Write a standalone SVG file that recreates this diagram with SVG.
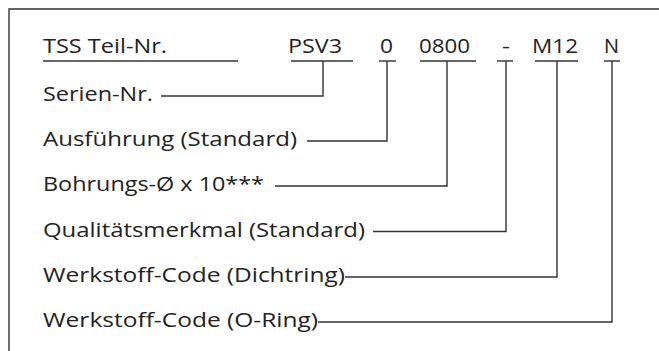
<svg xmlns="http://www.w3.org/2000/svg" width="659" height="351" viewBox="0 0 659 351">
<style>
text{font-family:"Open Sans","Noto Sans","DejaVu Sans",sans-serif;font-size:20px;fill:#222}
line,polyline{stroke:#333;stroke-width:1.4;fill:none}
</style>
<rect width="659" height="351" fill="#fff"/>
<g id="frame"><polyline points="9,351 9,9 659,9"/></g>
<g id="header">
<text x="43" y="53" textLength="124" lengthAdjust="spacingAndGlyphs">TSS Teil-Nr.</text>
<text x="288" y="53" textLength="54" lengthAdjust="spacingAndGlyphs">PSV3</text>
<text x="380" y="53" textLength="13" lengthAdjust="spacingAndGlyphs">0</text>
<text x="419" y="53" textLength="51" lengthAdjust="spacingAndGlyphs">0800</text>
<text x="502" y="53" textLength="8" lengthAdjust="spacingAndGlyphs">-</text>
<text x="532" y="53" textLength="46" lengthAdjust="spacingAndGlyphs">M12</text>
<text x="604" y="53" textLength="15" lengthAdjust="spacingAndGlyphs">N</text>
</g>
<g id="labels">
<text x="43" y="101" textLength="110" lengthAdjust="spacingAndGlyphs">Serien-Nr.</text>
<text x="43" y="146" textLength="254" lengthAdjust="spacingAndGlyphs">Ausführung (Standard)</text>
<text x="43" y="191" textLength="221" lengthAdjust="spacingAndGlyphs">Bohrungs-Ø x 10***</text>
<text x="43" y="236.5" textLength="322" lengthAdjust="spacingAndGlyphs">Qualitätsmerkmal (Standard)</text>
<text x="43" y="282" textLength="302" lengthAdjust="spacingAndGlyphs">Werkstoff-Code (Dichtring)</text>
<text x="43" y="327" textLength="275" lengthAdjust="spacingAndGlyphs">Werkstoff-Code (O-Ring)</text>
</g>
<g id="connectors">
<line x1="43" y1="61" x2="238" y2="61"/>
<line x1="291" y1="61" x2="353" y2="61"/>
<line x1="379" y1="61" x2="396" y2="61"/>
<line x1="420" y1="61" x2="476" y2="61"/>
<line x1="497" y1="61" x2="513" y2="61"/>
<line x1="535" y1="61" x2="578" y2="61"/>
<line x1="604" y1="61" x2="620" y2="61"/>
<polyline points="161,96 323,96 323,61"/>
<polyline points="307,141 387,141 387,61"/>
<polyline points="275,186 447,186 447,61"/>
<polyline points="373,231.5 506,231.5 506,61"/>
<polyline points="345,277 557,277 557,61"/>
<polyline points="318,322 612,322 612,61"/>
</g>
</svg>
